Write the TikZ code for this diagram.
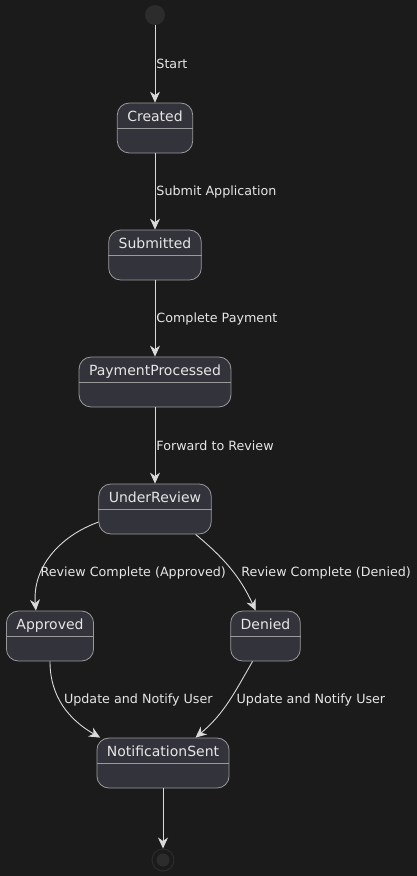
\documentclass[tikz,border=0pt]{standalone}
\usepackage{fontspec}
\setmainfont{DejaVu Sans}
\usetikzlibrary{arrows.meta}

\definecolor{bgdark}{HTML}{1B1B1B}
\definecolor{statefill}{HTML}{33333C}
\definecolor{stateline}{HTML}{9A9A9A}
\definecolor{flowline}{HTML}{DADADA}
\definecolor{txt}{HTML}{E6E6E6}
\definecolor{pseudofill}{HTML}{2C2C2C}

\tikzset{
  >={Stealth[length=11pt,width=10pt,inset=3.5pt]},
  state/.style={shape=rectangle, rounded corners=12pt, draw=stateline, fill=statefill,
    line width=0.8pt, text=txt, font=\fontsize{14}{16}\selectfont,
    inner xsep=10pt, inner ysep=0pt, text height=18pt, text depth=32pt},
  sepline/.style={draw=stateline, line width=0.8pt},
  startdot/.style={shape=circle, fill=pseudofill, minimum size=20pt, inner sep=0pt},
  enddot/.style={shape=circle, draw=pseudofill, line width=1pt, minimum size=22pt, inner sep=0pt},
  flow/.style={draw=flowline, line width=0.9pt},
  edgetext/.style={font=\fontsize{12.7}{15}\selectfont, text=txt, inner sep=1pt}
}

\begin{document}
\begin{tikzpicture}[x=1pt, y=-1pt]
            \fill[bgdark] (0,0) rectangle (417,876);

            \node[startdot] (start) at (155,15) {};
            \node[state] (created) at (155,128) {Created};
            \node[state] (submitted) at (155,255) {Submitted};
            \node[state] (payment) at (155,382) {PaymentProcessed};
            \node[state] (review) at (155,509) {UnderReview};
            \node[state] (approved) at (50,636) {Approved};
            \node[state] (denied) at (265.5,636) {Denied};
            \node[state] (notified) at (163,763) {NotificationSent};
            \node[enddot] (finish) at (163,860) {};
            \fill[pseudofill] (finish) circle (6.5pt);

            \foreach \s in {created,submitted,payment,review,approved,denied,notified}
                \draw[sepline] ([yshift=-26pt]\s.north west) -- ([yshift=-26pt]\s.north east);

            \draw [flow,->] (start) -- node[midway,right,edgetext] {Start} (created);
            \draw [flow,->] (created) -- node[midway,right,edgetext] {Submit Application} (submitted);
            \draw [flow,->] (submitted) -- node[midway,right,edgetext] {Complete Payment} (payment);
            \draw [flow,->] (payment) -- node[midway,right,edgetext] {Forward to Review} (review);
            \draw [flow,->] (review.193) to [out=200,in=95] node[pos=0.68,right,xshift=-2pt,edgetext] {Review Complete (Approved)} (approved.119);
            \draw [flow,->] (review.-32) to [out=-40,in=115] node[pos=0.56,right,xshift=6pt,edgetext] {Review Complete (Denied)} (denied.111);
            \draw [flow,->] (approved.south) to [out=-90,in=150] node[pos=0.42,right,xshift=3pt,edgetext] {Update and Notify User} (notified.158);
            \draw [flow,->] (denied.-117) to [out=-120,in=40] node[pos=0.47,right,xshift=6pt,edgetext] {Update and Notify User} (notified.38);
            \draw [flow,->] (notified) -- (finish);
        \end{tikzpicture}
\end{document}
